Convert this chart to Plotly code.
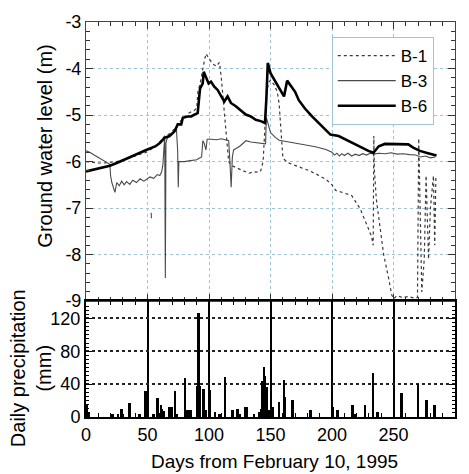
import plotly.graph_objects as go

# ---------------- data ----------------
b6_day = [0, 10, 19.4, 25, 30, 35.6, 42, 49, 56.6, 60, 63.9, 67.9, 72, 74.6, 77.4, 78.7, 82.7,
          85.5, 88.1, 90.8, 92.7, 94.9, 95.7, 97.6, 99.7, 101.6, 104.3, 107, 109.7, 112.4, 115.1,
          117.8, 121.8, 125.9, 129.9, 134, 138, 142, 145.5, 146.6, 147.8, 150, 154, 159.5, 161,
          163.5, 166, 170, 173, 178, 183.8, 189, 194.6, 198.7, 205.4, 213.5, 221.6, 229.6, 233.7,
          238, 243, 252, 262, 266, 271.5, 278, 285]
b6_level = [-6.21, -6.15, -6.09, -6.03, -5.97, -5.91, -5.84, -5.75, -5.67, -5.6, -5.49, -5.45,
            -5.35, -5.2, -5.2, -5.06, -5.03, -5.03, -4.99, -4.96, -4.43, -4.32, -4.07, -4.18,
            -4.32, -4.28, -4.39, -4.46, -4.6, -4.71, -4.6, -4.74, -4.81, -4.91, -4.99, -5.03,
            -5.1, -5.13, -5.17, -4.67, -3.88, -4.1, -4.28, -4.53, -4.6, -4.26, -4.35, -4.5,
            -4.68, -4.86, -5.03, -5.17, -5.31, -5.42, -5.45, -5.56, -5.67, -5.77, -5.81, -5.67,
            -5.62, -5.62, -5.63, -5.7, -5.77, -5.82, -5.87]

b3_day = [0, 3, 8, 14, 19.4, 20, 21, 23.5, 25, 27, 29, 31, 33, 35.6, 38, 41, 44, 47, 49, 52, 55,
          58, 60, 61.5, 62.5, 63.5, 64, 64.5, 65, 66, 68, 71, 73.5, 74.5, 75, 75.5, 80, 85, 90,
          92, 94, 95, 96, 97.5, 98.5, 102, 106, 110, 114, 116, 117, 118, 119, 120, 122, 125, 128,
          130, 134, 139, 143, 146, 146.6, 148, 150, 154, 157, 165, 173, 180, 186.5, 195, 200, 202,
          204, 206, 208, 210, 213, 216, 219, 222, 225, 228, 231, 234, 238, 243, 248, 253, 258,
          263, 268, 272, 276, 280, 284, None, 53, 53.2]
b3_level = [-5.77, -5.8, -5.88, -5.98, -6.06, -6.3, -6.45, -6.66, -6.45, -6.52, -6.42, -6.5,
            -6.43, -6.49, -6.4, -6.45, -6.37, -6.42, -6.38, -6.33, -6.36, -6.28, -6.3, -6.22,
            -6.07, -5.6, -5.45, -8.5, -5.6, -5.5, -5.45, -5.38, -5.3, -5.75, -6.55, -6.0, -6.0,
            -5.98, -5.96, -5.93, -5.9, -5.55, -5.6, -5.75, -5.52, -5.52, -5.53, -5.51, -5.53,
            -5.55, -6.0, -6.55, -5.9, -5.75, -5.72, -5.67, -5.6, -5.55, -5.58, -5.6, -5.6, -5.62,
            -5.05, -5.2, -5.38, -5.48, -5.54, -5.58, -5.62, -5.66, -5.68, -5.74, -5.8, -5.86,
            -5.82, -5.88, -5.83, -5.87, -5.82, -5.88, -5.84, -5.87, -5.83, -5.86, -5.82, -5.84,
            -5.82, -5.83, -5.81, -5.84, -5.83, -5.85, -5.86, -5.9, -5.88, -5.92, -5.9, None,
            -7.1, -7.22]

b1_day = [0, 5, 10, 15, 19, 25, 30, 36, 42, 49, 55, 60, 64, 68, 72, 76, 80, 84, 88, 90, 91, 93,
          95, 97.5, 100, 103, 106, 108.5, 110, 111, 112.4, 114, 116, 118, 121, 124.5, 128, 132.6,
          136, 140.7, 142, 144, 146, 147, 148.5, 150, 153, 155.5, 157, 158.5, 160, 161, 164,
          167.7, 174, 181, 188, 195, 200, 203, 208, 216, 223, 226, 229.6, 232, 233.5, 234, 234.5,
          236, 238, 242, 246, 248.5, 250, 253, 257, 262, 266, 269.5, 270.5, 272, 273, 275, 276.5,
          278.5, 280, 282.5, 283.5, 284.5]
b1_level = [-6.0, -6.02, -6.03, -6.03, -6.02, -6.0, -5.96, -5.92, -5.86, -5.8, -5.7, -5.58,
            -5.45, -5.4, -5.3, -5.15, -5.05, -4.95, -4.9, -4.85, -4.5, -4.3, -4.0, -3.68, -3.78,
            -3.9, -3.95, -3.87, -4.2, -4.5, -4.85, -5.4, -6.0, -6.08, -6.12, -6.17, -6.2, -6.25,
            -6.22, -6.23, -6.2, -6.0, -5.0, -4.5, -4.3, -4.25, -4.35, -4.5, -4.75, -5.3, -5.9,
            -5.95, -6.02, -6.06, -6.12, -6.19, -6.28, -6.38, -6.5, -6.62, -6.66, -6.73, -7.02,
            -7.2, -7.44, -7.6, -7.8, -5.45, -6.2, -6.8, -7.23, -8.0, -8.5, -8.86, -8.95, -8.88,
            -8.92, -8.9, -8.93, -8.92, -5.5, -8.0, -8.8, -8.1, -6.3, -8.1, -7.0, -6.3, -7.8, -6.3]

p_day = [1, 2, 21.5, 26, 29, 30, 35.5, 43.5, 48, 49, 55, 58, 61, 62, 63, 68, 69, 70, 72.5, 74,
         80.5, 82, 83, 84, 85, 90.5, 91.5, 92.5, 95.5, 97, 101, 105, 108.5, 113, 119, 123, 125,
         129.5, 131, 136.5, 140.5, 142.5, 143.5, 144.5, 145.5, 147, 149, 151.5, 157, 161, 162,
         168, 182.5, 201, 204.5, 216.5, 218.5, 227, 233.5, 237, 256.5, 270, 277, 283.5]
p_mm = [14, 6, 4, 3, 10, 3, 17, 3, 31, 31, 4, 23, 14, 10, 7, 12, 12, 12, 31, 4,
        47, 8, 8, 8, 8, 37, 127, 37, 34, 8, 33, 6, 4, 49, 8, 10, 4,
        12, 12, 4, 6, 10, 44, 61, 50, 36, 8, 12, 18, 45, 24,
        20, 8, 12, 8, 14, 4, 14, 53, 6, 29, 40, 20, 14]

level_ticks = [-3, -4, -5, -6, -7, -8, -9]
level_labels = ["-3", "-4", "-5", "-6", "-7", "-8", "-9"]
day_ticks = [0, 50, 100, 150, 200, 250, 300]
prec_ticks = [0, 40, 80, 120]

# ---------------- figure ----------------
FONT = "Liberation Sans, Arial, Helvetica, sans-serif"
GRID = "#9fc4d6"

fig = go.Figure()
fig.add_trace(go.Scatter(x=b1_day, y=b1_level, mode="lines", name="B-1",
                         line=dict(color="#3a3a3a", width=1.2, dash="dot"),
                         xaxis="x", yaxis="y"))
fig.add_trace(go.Scatter(x=b3_day, y=b3_level, mode="lines", name="B-3",
                         line=dict(color="#4a4a4a", width=1.1),
                         xaxis="x", yaxis="y"))
fig.add_trace(go.Scatter(x=b6_day, y=b6_level, mode="lines", name="B-6",
                         line=dict(color="black", width=2.6),
                         xaxis="x", yaxis="y"))
fig.add_trace(go.Bar(x=p_day, y=p_mm, width=2.0, marker=dict(color="black", line=dict(width=0)),
                     showlegend=False, xaxis="x2", yaxis="y2"))

split = 117 / 399

fig.update_layout(
    width=469, height=474,
    margin=dict(l=86, r=12, t=18, b=57),
    paper_bgcolor="white", plot_bgcolor="white",
    font=dict(family=FONT, size=17, color="black"),
    showlegend=True,
    bargap=0,
    legend=dict(x=0.666, y=0.962, xanchor="left", yanchor="top",
                bgcolor="white", bordercolor=GRID, borderwidth=1,
                font=dict(size=17, family=FONT), itemwidth=58,
                tracegroupgap=0),
    xaxis=dict(domain=[0, 1], anchor="y", range=[0, 300], showticklabels=False,
               tickvals=day_ticks, ticks="inside", ticklen=7, tickcolor="#333",
               showgrid=True, gridcolor=GRID, griddash="dot", gridwidth=1,
               showline=True, linecolor="#444", linewidth=1, mirror="allticks",
               zeroline=False,
               minor=dict(dtick=10, ticks="inside", ticklen=4, tickcolor="#333", showgrid=False)),
    yaxis=dict(domain=[split, 1], anchor="x", range=[-9, -3],
               tickvals=level_ticks, ticktext=level_labels, ticks="inside", ticklen=7,
               tickcolor="#333", showgrid=True, gridcolor=GRID, griddash="dot", gridwidth=1,
               showline=True, linecolor="#444", linewidth=1, mirror="allticks",
               zeroline=False, tickfont=dict(size=18),
               minor=dict(dtick=0.2, ticks="inside", ticklen=4, tickcolor="#333", showgrid=False)),
    xaxis2=dict(domain=[0, 1], anchor="y2", range=[0, 300],
                tickvals=day_ticks, ticks="inside", ticklen=6, tickcolor="black",
                showgrid=True, gridcolor="black", gridwidth=1.6,
                showline=True, linecolor="black", linewidth=2, mirror="allticks",
                zeroline=False, tickfont=dict(size=18),
                minor=dict(dtick=10, ticks="inside", ticklen=4, tickcolor="black", showgrid=False)),
    yaxis2=dict(domain=[0, split], anchor="x2", range=[0, 141],
                tickvals=prec_ticks, ticks="inside", ticklen=6, tickcolor="black",
                showgrid=True, gridcolor="#222", griddash="dot", gridwidth=1.5,
                showline=True, linecolor="black", linewidth=2, mirror="allticks",
                zeroline=False, tickfont=dict(size=18),
                minor=dict(dtick=5, ticks="inside", ticklen=3, tickcolor="black", showgrid=False)),
    annotations=[
        dict(text="Ground water level (m)", xref="paper", yref="paper",
             x=-0.1105, y=0.685, xanchor="center", yanchor="middle", textangle=-90,
             showarrow=False, font=dict(size=20, family=FONT)),
        dict(text="Daily precipitation<br>(mm)", xref="paper", yref="paper",
             x=-0.147, y=0.123, xanchor="center", yanchor="middle", textangle=-90,
             showarrow=False, font=dict(size=20, family=FONT)),
        dict(text="Days from February 10, 1995", xref="paper", yref="paper",
             x=0.512, y=-0.112, xanchor="center", yanchor="middle",
             showarrow=False, font=dict(size=19, family=FONT)),
    ],
)

fig.write_html("out.html",
               config={"displayModeBar": False},
               post_script="document.body.style.margin='0';document.body.style.overflow='hidden';")
